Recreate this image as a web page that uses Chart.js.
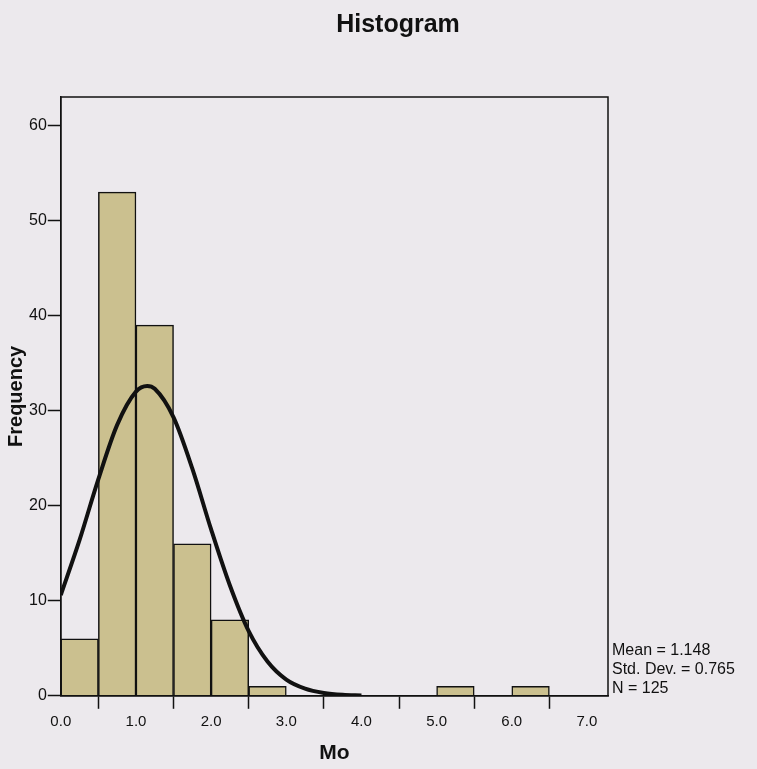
<!DOCTYPE html>
<html>
<head>
<meta charset="utf-8">
<script src="https://cdn.jsdelivr.net/npm/chart.js@4.4.1/dist/chart.umd.min.js"></script>
<style>
  html, body { margin: 0; padding: 0; background: #ece9ed; }
  #wrap { width: 757px; height: 769px; }
</style>
</head>
<body>
<div id="wrap"><canvas id="myChart" width="757" height="769"></canvas></div>
<script>
// histogram bins (width 0.5) and their counts
const binStarts = [0.0, 0.5, 1.0, 1.5, 2.0, 2.5, 5.0, 6.0];
const counts = [6, 53, 39, 16, 8, 1, 1, 1];
const binWidth = 0.5;

// fitted normal curve, read at these x positions
const curveX = [0, 0.25, 0.5, 0.75, 1.0, 1.15, 1.25, 1.5, 1.75, 2.0, 2.25, 2.5, 2.75, 3.0, 3.25, 3.5, 3.75, 4.0];
const curveY = [10.6, 16.4, 22.8, 28.5, 32.0, 32.6, 32.3, 29.3, 23.9, 17.5, 11.6, 6.8, 3.6, 1.7, 0.75, 0.3, 0.1, 0.03];

const statLines = ['Mean = 1.148', 'Std. Dev. = 0.765', 'N = 125'];
const yTicks = [0, 10, 20, 30, 40, 50, 60];
const xTicks = [0, 1, 2, 3, 4, 5, 6, 7];

const ink = '#111';
const fontFamily = 'Liberation Sans, Arial, sans-serif';

// title, frame round the plot area and the statistics text
const framePlugin = {
  id: 'frame',
  afterDraw(chart) {
    const { ctx, chartArea: a } = chart;
    ctx.save();
    ctx.strokeStyle = ink;
    ctx.lineWidth = 1.5;
    ctx.strokeRect(a.left, a.top, a.right - a.left, a.bottom - a.top);

    ctx.fillStyle = ink;
    ctx.textBaseline = 'middle';
    ctx.textAlign = 'center';
    ctx.font = 'bold 25px ' + fontFamily;
    ctx.fillText('Histogram', 398, 25);

    ctx.textAlign = 'left';
    ctx.font = '16px ' + fontFamily;
    statLines.forEach((s, i) => ctx.fillText(s, a.right + 4, a.bottom - 45 + i * 19));
    ctx.restore();
  }
};

const ctx = document.getElementById('myChart').getContext('2d');
const myChart = new Chart(ctx, {
  type: 'bar',
  data: {
    datasets: [
      {
        type: 'line',
        data: curveX.map((x, i) => ({ x: x, y: curveY[i] })),
        borderColor: ink,
        borderWidth: 4,
        pointRadius: 0,
        cubicInterpolationMode: 'monotone',
        fill: false,
        order: 0
      },
      {
        data: binStarts.map((b, i) => ({ x: b + binWidth / 2, y: counts[i] })),
        backgroundColor: '#cbc08f',
        borderColor: ink,
        borderWidth: 1.5,
        barPercentage: 1.0,
        categoryPercentage: 1.0,
        order: 1
      }
    ]
  },
  options: {
    responsive: false,
    animation: false,
    layout: { padding: { left: 4, right: 149, top: 97, bottom: 3 } },
    plugins: {
      legend: { display: false },
      tooltip: { enabled: false },
      title: { display: false }
    },
    scales: {
      x: {
        type: 'linear',
        offset: false,
        min: 0,
        max: 7.28,
        afterBuildTicks: s => { s.ticks = xTicks.map(v => ({ value: v })); },
        ticks: { color: ink, font: { family: fontFamily, size: 15 }, padding: 4, callback: v => v.toFixed(1), maxRotation: 0 },
        grid: { drawOnChartArea: false, drawTicks: true, tickLength: 13, tickColor: ink, tickWidth: 1.5 },
        border: { color: ink, width: 1.5 },
        title: {
          display: true,
          text: 'Mo',
          color: ink,
          font: { family: fontFamily, size: 21, weight: 'bold' },
          padding: { top: 6, bottom: 0 }
        }
      },
      y: {
        min: 0,
        max: 63,
        afterBuildTicks: s => { s.ticks = yTicks.map(v => ({ value: v })); },
        ticks: { color: ink, font: { family: fontFamily, size: 16 }, padding: 1 },
        grid: { drawOnChartArea: false, drawTicks: true, tickLength: 13, tickColor: ink, tickWidth: 1.5 },
        border: { color: ink, width: 1.5 },
        title: {
          display: true,
          text: 'Frequency',
          color: ink,
          font: { family: fontFamily, size: 20, weight: 'bold' },
          padding: { top: 0, bottom: 0 }
        }
      }
    }
  },
  plugins: [framePlugin]
});
</script>
</body>
</html>
